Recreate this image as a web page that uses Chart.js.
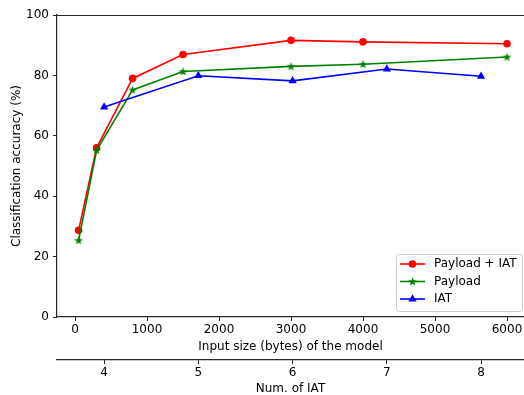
<!DOCTYPE html>
<html>
<head>
<meta charset="utf-8">
<script src="https://cdn.jsdelivr.net/npm/chart.js@4"></script>
<style>
  html, body { margin: 0; padding: 0; background: #fff; overflow: hidden; }
  #wrap { width: 524px; height: 395px; }
</style>
</head>
<body>
<div id="wrap"><canvas id="chart" width="524" height="395"></canvas></div>
<script>
// data
const inputSizes = [50, 300, 800, 1500, 3000, 4000, 6000];
const payloadIatAcc = [28.7, 56.0, 79.0, 86.9, 91.6, 91.1, 90.5];
const payloadAcc = [25.4, 55.2, 75.2, 81.3, 83.0, 83.7, 86.1];
const iatCounts = [4, 5, 6, 7, 8];
const iatAcc = [69.5, 79.9, 78.2, 82.1, 79.7];

const sizeTicks = [0, 1000, 2000, 3000, 4000, 5000, 6000];
const iatTicks = [4, 5, 6, 7, 8];
const accTicks = [0, 20, 40, 60, 80, 100];

const FONT = 'DejaVu Sans';
const AXIS = '#262626';

function toPoints(xs, ys) {
  return xs.map((x, i) => ({x: x, y: ys[i]}));
}

// matplotlib-like filled star marker
function starMarker(color) {
  const c = document.createElement('canvas');
  c.width = 11; c.height = 11;
  const ctx = c.getContext('2d');
  ctx.fillStyle = color;
  ctx.beginPath();
  for (let i = 0; i < 10; i++) {
    const r = i % 2 === 0 ? 4.6 : 1.9;
    const a = -Math.PI / 2 + i * Math.PI / 5;
    const px = 5.5 + r * Math.cos(a), py = 5.8 + r * Math.sin(a);
    if (i === 0) ctx.moveTo(px, py); else ctx.lineTo(px, py);
  }
  ctx.closePath();
  ctx.fill();
  return c;
}
const star = starMarker('#008000');

const setTicks = (vals) => (scale) => { scale.ticks = vals.map(v => ({value: v})); };
const plain = (v) => String(v);

const frame = {
  id: 'frame',
  afterDraw(chart) {
    const ctx = chart.ctx, a = chart.chartArea;
    ctx.save();
    ctx.strokeStyle = AXIS;
    ctx.lineWidth = 1.2;
    ctx.beginPath();
    ctx.moveTo(a.left, a.top + 0.5);
    ctx.lineTo(a.right, a.top + 0.5);
    ctx.stroke();

    // legend box, lower right
    const bx = 396.5, by = 254.5, bw = 126, bh = 57;
    ctx.fillStyle = 'rgba(255,255,255,0.8)';
    ctx.strokeStyle = '#cccccc';
    ctx.lineWidth = 1;
    ctx.beginPath();
    ctx.roundRect(bx, by, bw, bh, 3);
    ctx.fill();
    ctx.stroke();

    const rows = [264, 281.5, 299];
    ctx.font = '12px "' + FONT + '"';
    ctx.textBaseline = 'middle';
    ctx.textAlign = 'left';
    chart.data.datasets.forEach((ds, i) => {
      const y = rows[i];
      ctx.strokeStyle = ds.borderColor;
      ctx.lineWidth = ds.borderWidth;
      ctx.beginPath();
      ctx.moveTo(400, y);
      ctx.lineTo(425, y);
      ctx.stroke();
      ctx.fillStyle = ds.borderColor;
      if (ds.pointStyle === 'circle') {
        ctx.beginPath();
        ctx.arc(412.5, y, ds.pointRadius, 0, Math.PI * 2);
        ctx.fill();
      } else if (ds.pointStyle === 'triangle') {
        const r = ds.pointRadius;
        ctx.beginPath();
        ctx.moveTo(412.5, y - r);
        ctx.lineTo(412.5 + r * 0.866, y + r * 0.5);
        ctx.lineTo(412.5 - r * 0.866, y + r * 0.5);
        ctx.closePath();
        ctx.fill();
      } else {
        ctx.drawImage(ds.pointStyle, 412.5 - 5.5, y - 5.5);
      }
      ctx.fillStyle = '#000';
      ctx.fillText(ds.label, 434, y);
    });
    ctx.restore();
  }
};

new Chart(document.getElementById('chart'), {
  type: 'line',
  data: {
    datasets: [{
      label: 'Payload + IAT',
      data: toPoints(inputSizes, payloadIatAcc),
      xAxisID: 'x',
      borderColor: '#ff0000',
      backgroundColor: '#ff0000',
      borderWidth: 1.6,
      pointStyle: 'circle',
      pointRadius: 3.8,
      pointBorderWidth: 0,
      order: 3
    }, {
      label: 'Payload',
      data: toPoints(inputSizes, payloadAcc),
      xAxisID: 'x',
      borderColor: '#008000',
      backgroundColor: '#008000',
      borderWidth: 1.6,
      pointStyle: star,
      pointRadius: 4,
      order: 2
    }, {
      label: 'IAT',
      data: toPoints(iatCounts, iatAcc),
      xAxisID: 'x2',
      borderColor: '#0000ff',
      backgroundColor: '#0000ff',
      borderWidth: 1.6,
      pointStyle: 'triangle',
      pointRadius: 4.8,
      pointBorderWidth: 0,
      order: 1
    }]
  },
  options: {
    responsive: false,
    animation: false,
    layout: { autoPadding: false, padding: { top: 15, left: 0, right: 0, bottom: 0 } },
    plugins: { legend: { display: false }, tooltip: { enabled: false } },
    elements: { line: { tension: 0, fill: false } },
    scales: {
      x: {
        type: 'linear',
        position: 'bottom',
        weight: 0,
        min: -250,
        max: 6236,
        afterBuildTicks: setTicks(sizeTicks),
        afterFit: (s) => { s.height = 43; s.paddingLeft = 0; s.paddingRight = 0; },
        grid: { drawOnChartArea: false, tickLength: 4, color: AXIS },
        border: { display: true, color: AXIS, width: 1.2 },
        ticks: { color: '#000', padding: 2, maxRotation: 0, callback: plain, font: { family: FONT, size: 12 } },
        title: {
          display: true, text: 'Input size (bytes) of the model', color: '#000',
          font: { family: FONT, size: 12 }, padding: { top: 0, bottom: 6.3 }
        }
      },
      x2: {
        type: 'linear',
        position: 'bottom',
        weight: 1,
        min: 3.5,
        max: 8.456,
        afterBuildTicks: setTicks(iatTicks),
        afterFit: (s) => { s.height = 35; s.paddingLeft = 0; s.paddingRight = 0; },
        grid: { drawOnChartArea: false, tickLength: 4, color: AXIS },
        border: { display: true, color: AXIS, width: 1.2 },
        ticks: { color: '#000', padding: 2, maxRotation: 0, callback: plain, font: { family: FONT, size: 12 } },
        title: {
          display: true, text: 'Num. of IAT', color: '#000',
          font: { family: FONT, size: 12, lineHeight: 1 }, padding: { top: 0, bottom: 0 }
        }
      },
      y: {
        type: 'linear',
        min: 0,
        max: 100,
        afterBuildTicks: setTicks(accTicks),
        afterFit: (s) => { s.width = 57; s.paddingTop = 0; s.paddingBottom = 0; },
        grid: { drawOnChartArea: false, tickLength: 4, color: AXIS },
        border: { display: true, color: AXIS, width: 1.2 },
        ticks: { color: '#000', padding: 4, callback: plain, font: { family: FONT, size: 12 } },
        title: {
          display: true, text: 'Classification accuracy (%)', color: '#000',
          font: { family: FONT, size: 12 }, padding: { top: 9.3, bottom: 0 }
        }
      }
    }
  },
  plugins: [frame]
});
</script>
</body>
</html>
